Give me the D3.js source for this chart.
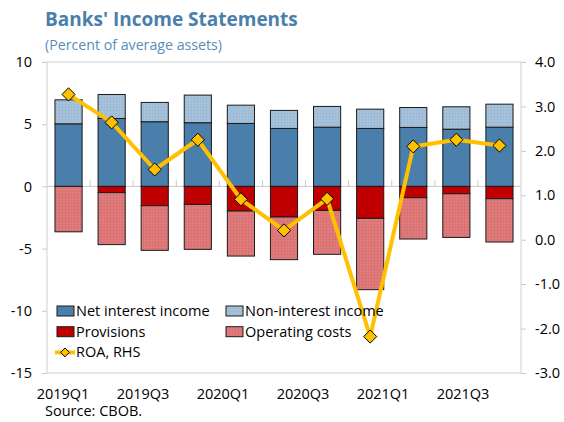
<!DOCTYPE html>
<html>
<head>
<meta charset="utf-8">
<script src="https://cdn.jsdelivr.net/npm/d3@7"></script>
<style>
	body { margin: 0; background: #fff; }
	svg { font-family: "Open Sans", "Noto Sans", sans-serif; }
</style>
</head>
<body>
<div id="vis"></div>
<script>
const width = 564;
const height = 422;

const quarters = ["2019Q1", "2019Q2", "2019Q3", "2019Q4", "2020Q1", "2020Q2", "2020Q3", "2020Q4", "2021Q1", "2021Q2", "2021Q3"];
const tickLabels = ["2019Q1", "2019Q3", "2020Q1", "2020Q3", "2021Q1", "2021Q3"];

const netInterest = [5.03, 5.46, 5.2, 5.12, 5.06, 4.66, 4.76, 4.66, 4.74, 4.6, 4.76];
const nonInterest = [1.93, 1.93, 1.55, 2.22, 1.47, 1.45, 1.67, 1.55, 1.6, 1.8, 1.85];
const provisions = [0, -0.5, -1.55, -1.45, -1.98, -2.46, -1.93, -2.57, -0.91, -0.59, -0.99];
const opCosts = [-3.65, -4.18, -3.59, -3.61, -3.62, -3.43, -3.53, -5.73, -3.32, -3.51, -3.48];
const roa = [3.27, 2.64, 1.58, 2.25, 0.91, 0.21, 0.92, -2.18, 2.1, 2.25, 2.12];

const leftTicks = [10, 5, 0, -5, -10, -15];
const rightTicks = [4, 3, 2, 1, 0, -1, -2, -3];

const colors = {
	nii: "#4a7eab",
	non: "#a7c3dc",
	prov: "#c00000",
	op: "#e17c7c",
	roa: "#ffc000"
};

const margin = {top: 62, right: 43, bottom: 49, left: 47};
const iw = width - margin.left - margin.right;
const ih = height - margin.top - margin.bottom;

const svg = d3.select("#vis")
	.append("svg")
		.attr("width", width)
		.attr("height", height);

// patterns for the hatched series
const defs = svg.append("defs");
function addPattern(id, base, line) {
	const p = defs.append("pattern")
		.attr("id", id)
		.attr("width", 3)
		.attr("height", 3)
		.attr("patternUnits", "userSpaceOnUse");
	p.append("rect").attr("width", 3).attr("height", 3).attr("fill", base);
	p.append("path").attr("d", "M0,0.5H3M0.5,0V3").attr("stroke", line).attr("stroke-width", 0.5).attr("stroke-opacity", 0.35);
}
addPattern("pat-non", colors.non, "#7f9fbf");
addPattern("pat-op", colors.op, "#c05050");

// titles
svg.append("text")
	.attr("x", 45)
	.attr("y", 26)
	.attr("fill", "#4a7eab")
	.attr("font-size", 19)
	.attr("font-weight", "bold")
	.text("Banks' Income Statements");

svg.append("text")
	.attr("x", 45)
	.attr("y", 50)
	.attr("fill", "#5a8cbb")
	.attr("font-size", 14.2)
	.text("(Percent of average assets)");

const g = svg.append("g")
	.attr("transform", `translate(${margin.left}, ${margin.top})`);

const x = d3.scaleBand()
	.domain(quarters)
	.range([0, iw])
	.paddingInner(0.37)
	.paddingOuter(0.185);

const y = d3.scaleLinear()
	.domain([-15, 10])
	.range([ih, 0]);

const y2 = d3.scaleLinear()
	.domain([-3, 4])
	.range([ih, 0]);

// plot border
g.append("rect")
	.attr("width", iw)
	.attr("height", ih)
	.attr("fill", "none")
	.attr("stroke", "#d0d0d0");

// left axis
const yAxis = g.append("g")
	.call(d3.axisLeft(y).tickValues(leftTicks).tickSize(5).tickPadding(10).tickFormat(d => String(d)));
yAxis.select(".domain").remove();
yAxis.selectAll("line").attr("stroke", "#c8c8c8");
yAxis.selectAll("text").attr("font-size", 14.5).attr("fill", "#000").attr("font-family", "Open Sans");

// right axis
const y2Axis = g.append("g")
	.attr("transform", `translate(${iw}, 0)`)
	.call(d3.axisRight(y2).tickValues(rightTicks).tickSize(5).tickPadding(9).tickFormat(d => d.toFixed(1)));
y2Axis.select(".domain").remove();
y2Axis.selectAll("line").attr("stroke", "#c8c8c8");
y2Axis.selectAll("text").attr("font-size", 14.5).attr("fill", "#000").attr("font-family", "Open Sans");

// zero line and category ticks
g.append("line")
	.attr("x1", 0)
	.attr("x2", iw)
	.attr("y1", y(0))
	.attr("y2", y(0))
	.attr("stroke", "#c8c8c8");

const step = x.step();
g.selectAll("line.cattick")
	.data(quarters.slice(1))
	.enter()
	.append("line")
		.classed("cattick", true)
		.attr("x1", d => x(d) - x.paddingInner() * step / 2)
		.attr("x2", d => x(d) - x.paddingInner() * step / 2)
		.attr("y1", y(0) - 6)
		.attr("y2", y(0))
		.attr("stroke", "#c8c8c8");

// bars
const segs = [];
quarters.forEach((q, i) => {
	segs.push({q, y0: 0, y1: netInterest[i], fill: colors.nii});
	segs.push({q, y0: netInterest[i], y1: netInterest[i] + nonInterest[i], fill: "url(#pat-non)"});
	if (provisions[i] < 0) segs.push({q, y0: 0, y1: provisions[i], fill: colors.prov});
	segs.push({q, y0: provisions[i], y1: provisions[i] + opCosts[i], fill: "url(#pat-op)"});
});

g.selectAll("rect.bar")
	.data(segs)
	.enter()
	.append("rect")
		.classed("bar", true)
		.attr("x", d => x(d.q))
		.attr("width", x.bandwidth())
		.attr("y", d => y(Math.max(d.y0, d.y1)))
		.attr("height", d => Math.abs(y(d.y0) - y(d.y1)))
		.attr("fill", d => d.fill)
		.attr("stroke", "#1a1a1a")
		.attr("stroke-width", 1);

// ROA line
const line = d3.line()
	.x((d, i) => x(quarters[i]) + x.bandwidth() / 2)
	.y(d => y2(d));

g.append("path")
	.datum(roa)
	.attr("d", line)
	.attr("fill", "none")
	.attr("stroke", colors.roa)
	.attr("stroke-width", 4)
	.attr("stroke-linejoin", "round");

const diamond = d3.symbol().type(d3.symbolDiamond2).size(110);
g.selectAll("path.marker")
	.data(roa)
	.enter()
	.append("path")
		.classed("marker", true)
		.attr("d", diamond)
		.attr("transform", (d, i) => `translate(${x(quarters[i]) + x.bandwidth() / 2}, ${y2(d)})`)
		.attr("fill", colors.roa)
		.attr("stroke", "#000")
		.attr("stroke-width", 1);

// x labels
const xl = d3.scalePoint()
	.domain(tickLabels)
	.range([63, 463]);

svg.selectAll("text.xlabel")
	.data(tickLabels)
	.enter()
	.append("text")
		.classed("xlabel", true)
		.attr("x", d => xl(d))
		.attr("y", 399)
		.attr("text-anchor", "middle")
		.attr("font-size", 14.5)
		.text(d => d);

svg.append("text")
	.attr("x", 45)
	.attr("y", 416)
	.attr("font-size", 14.5)
	.text("Source: CBOB.");

// legend
const legend = [
	{name: "Net interest income", fill: colors.nii, col: 0, row: 0},
	{name: "Non-interest income", fill: "url(#pat-non)", col: 1, row: 0},
	{name: "Provisions", fill: colors.prov, col: 0, row: 1},
	{name: "Operating costs", fill: "url(#pat-op)", col: 1, row: 1},
	{name: "ROA, RHS", line: true, col: 0, row: 2}
];

const lg = svg.append("g")
	.attr("transform", "translate(57, 311)");

const items = lg.selectAll("g")
	.data(legend)
	.enter()
	.append("g")
		.attr("transform", d => `translate(${d.col * 169}, ${d.row * 20.7})`);

items.filter(d => !d.line)
	.append("rect")
		.attr("x", 0)
		.attr("y", -5)
		.attr("width", 17)
		.attr("height", 10)
		.attr("fill", d => d.fill)
		.attr("stroke", "#1a1a1a");

const li = items.filter(d => d.line);
li.append("line")
	.attr("x1", -2)
	.attr("x2", 18)
	.attr("stroke", colors.roa)
	.attr("stroke-width", 4);
li.append("path")
	.attr("d", d3.symbol().type(d3.symbolDiamond2).size(50))
	.attr("transform", "translate(8, 0)")
	.attr("fill", colors.roa)
	.attr("stroke", "#000");

items.append("text")
	.attr("x", 19)
	.attr("y", 0)
	.attr("dy", "0.35em")
	.attr("font-size", 14.5)
	.text(d => d.name);
</script>
</body>
</html>
